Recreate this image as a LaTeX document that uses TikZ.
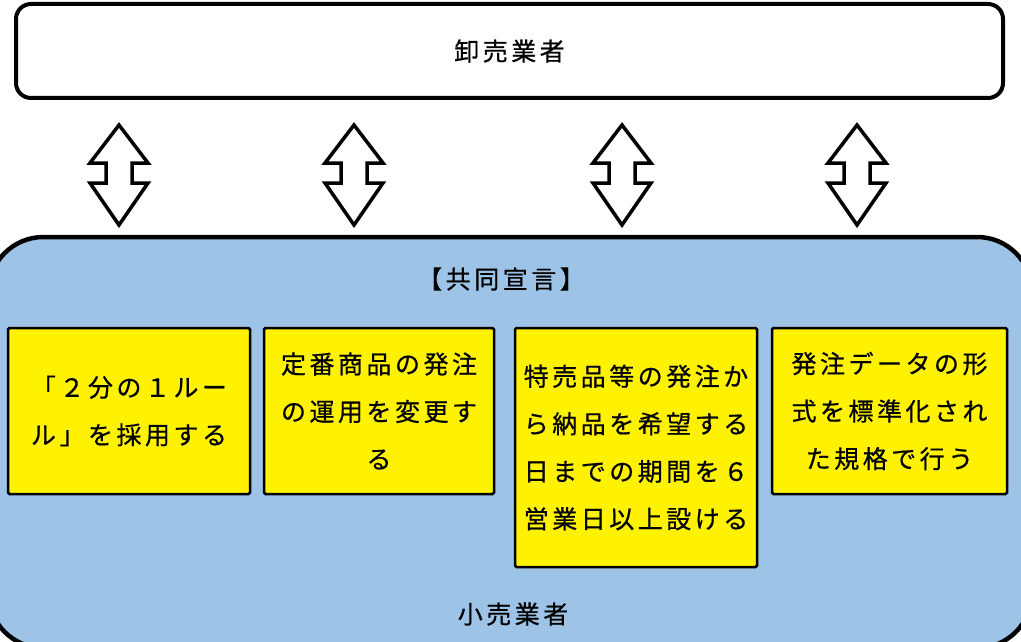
\documentclass[tikz,border=0pt]{standalone}
\usepackage{fontspec}
\setmainfont{Noto Sans CJK JP}[LetterSpace=14, FakeBold=0.6]
\usepackage{xcolor}
\usepackage{tikz}
\definecolor{retailblue}{RGB}{157,195,230}
\tikzstyle{party} = [draw=black, align=center, inner sep=0pt, font=\fontsize{25}{30}\selectfont]
\tikzstyle{declbox} = [draw=black, line width=2.5pt, fill=yellow, rounded corners=1.5pt, align=center, inner sep=0pt, font=\fontsize{25}{47.5}\selectfont]
\tikzstyle{twoway} = [draw=black, line width=3.5pt, fill=white]

\begin{document}
\begin{tikzpicture}[x=1pt, y=-1pt]
        \useasboundingbox (0,0) rectangle (1021,642);
        % retailers and wholesalers
        \node[party, fill=retailblue, line width=4.5pt, rounded corners=55pt, minimum width=1043.5pt, minimum height=411pt] (retail) at (510.25,442.5) {};
        \node[party, fill=white, line width=4pt, rounded corners=15pt, minimum width=987pt, minimum height=94pt] (wholesale) at (509.5,51) {卸売業者};
        \node[font=\fontsize{25}{30}\selectfont, inner sep=0pt] (retailname) at (513,614) {小売業者};
        \node[font=\fontsize{25}{30}\selectfont, inner sep=0pt] (declare) at (501,279) {【共同宣言】};
        % two-way arrows
        \foreach \cx in {119,354,622,857}
            \draw[twoway] (\cx,125) -- (\cx+29,163) -- (\cx+13,163) -- (\cx+13,183) -- (\cx+29,183) -- (\cx,225)
                -- (\cx-29,183) -- (\cx-13,183) -- (\cx-13,163) -- (\cx-29,163) -- cycle;
        % the four points
        \node[declbox, minimum width=242pt, minimum height=166pt] (rule) at (129,411) {「２分の１ルー\\ル」を採用する};
        \node[declbox, minimum width=230pt, minimum height=166pt] (regular) at (379,411) {定番商品の発注\\の運用を変更す\\る};
        \node[declbox, minimum width=242pt, minimum height=239pt] (leadtime) at (636,447.5) {特売品等の発注か\\ら納品を希望する\\日までの期間を６\\営業日以上設ける};
        \node[declbox, minimum width=235pt, minimum height=166pt] (format) at (889.5,411) {発注データの形\\式を標準化され\\た規格で行う};
    \end{tikzpicture}
\end{document}
